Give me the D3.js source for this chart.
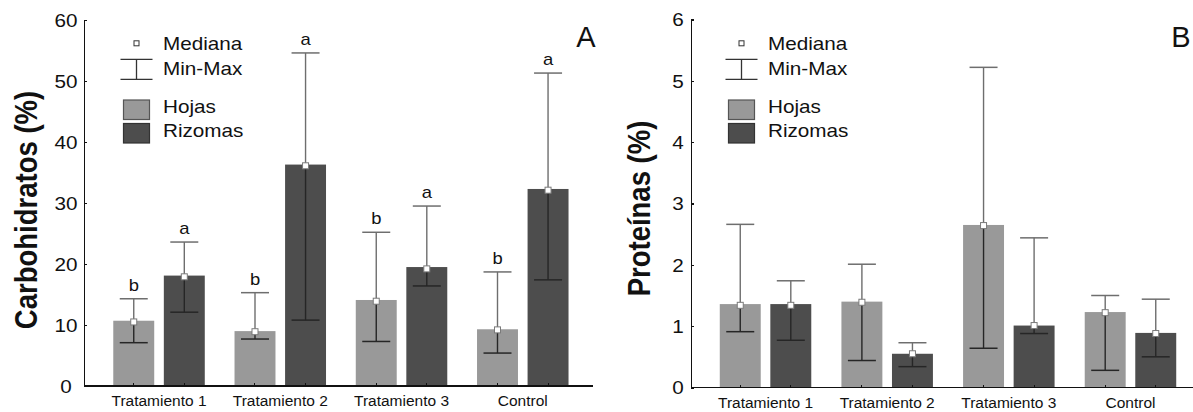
<!DOCTYPE html>
<html>
<head>
<meta charset="utf-8">
<style>
  body { margin: 0; background: #fff; }
  svg text { font-family: "Liberation Sans", Arial, sans-serif; fill: #111; }
  .axis path, .axis line { stroke: #111; stroke-width: 1.5; shape-rendering: crispEdges; }
</style>
</head>
<body>
<svg width="1193" height="412"></svg>
<script src="https://cdnjs.cloudflare.com/ajax/libs/d3/7.8.5/d3.min.js"></script>
<script>

// categories
var groups = ["Tratamiento 1", "Tratamiento 2", "Tratamiento 3", "Control"];
var series = ["Hojas", "Rizomas"];

// A - carbohidratos (%)
var carbBar    = {Hojas: [10.7, 9.0, 14.1, 9.3],  Rizomas: [18.1, 36.3, 19.5, 32.3]};
var carbMedian = {Hojas: [10.5, 8.9, 13.9, 9.2],  Rizomas: [17.9, 36.1, 19.2, 32.1]};
var carbMin    = {Hojas: [7.1, 7.7, 7.3, 5.4],    Rizomas: [12.1, 10.8, 16.4, 17.4]};
var carbMax    = {Hojas: [14.3, 15.3, 25.2, 18.7], Rizomas: [23.6, 54.6, 29.5, 51.3]};
var carbLetter = {Hojas: ["b", "b", "b", "b"],    Rizomas: ["a", "a", "a", "a"]};
var carbTicks  = [0, 10, 20, 30, 40, 50, 60];

// B - proteinas (%)
var protBar    = {Hojas: [1.36, 1.40, 2.65, 1.23], Rizomas: [1.36, 0.55, 1.01, 0.89]};
var protMedian = {Hojas: [1.34, 1.39, 2.64, 1.22], Rizomas: [1.34, 0.55, 1.01, 0.88]};
var protMin    = {Hojas: [0.91, 0.44, 0.64, 0.28], Rizomas: [0.77, 0.34, 0.88, 0.50]};
var protMax    = {Hojas: [2.66, 2.01, 5.22, 1.50], Rizomas: [1.74, 0.73, 2.44, 1.44]};
var protTicks  = [0, 1, 2, 3, 4, 5, 6];

var colors = {Hojas: "#999999", Rizomas: "#4d4d4d"};
var legendStroke = {Hojas: "#555", Rizomas: "#333"};
var stretch = 1.15;  // the original is a little wide

var svg = d3.select("svg");

function panel(cfg) {
  var g = svg.append("g");

  var y = d3.scaleLinear().domain([0, cfg.ticks[cfg.ticks.length - 1]]).range([cfg.y0, cfg.y1]);
  var x = d3.scaleBand().domain(groups).range(cfg.band);
  var xs = d3.scaleBand().domain(series).range([-45.75, 45.75]).paddingInner(0.19);
  function cx(i, s) { return x(groups[i]) + x.bandwidth() / 2 + xs(s) + xs.bandwidth() / 2; }

  // bars
  series.forEach(function(s) {
    g.append("g").selectAll("rect")
      .data(cfg.bar[s])
      .enter().append("rect")
        .attr("x", function(d, i) { return cx(i, s) - xs.bandwidth() / 2; })
        .attr("y", function(d) { return y(d); })
        .attr("width", xs.bandwidth())
        .attr("height", function(d) { return y(0) - y(d); })
        .attr("fill", colors[s]);
  });

  // min-max whiskers
  series.forEach(function(s) {
    var w = g.append("g");
    cfg.bar[s].forEach(function(b, i) {
      var c = cx(i, s), lo = cfg.min[s][i], hi = cfg.max[s][i];
      var split = Math.max(lo, Math.min(hi, b));
      w.append("line").attr("x1", c).attr("x2", c).attr("y1", y(split)).attr("y2", y(hi))
        .attr("stroke", "#6e6e6e").attr("stroke-width", 1.4);
      w.append("line").attr("x1", c).attr("x2", c).attr("y1", y(lo)).attr("y2", y(split))
        .attr("stroke", "#262626").attr("stroke-width", 1.4);
      w.append("line").attr("x1", c - 14).attr("x2", c + 14).attr("y1", y(hi)).attr("y2", y(hi))
        .attr("stroke", hi > b ? "#6e6e6e" : "#262626").attr("stroke-width", 1.5);
      w.append("line").attr("x1", c - 14).attr("x2", c + 14).attr("y1", y(lo)).attr("y2", y(lo))
        .attr("stroke", "#262626").attr("stroke-width", 1.5);
      // median
      w.append("rect").attr("x", c - 3).attr("y", y(cfg.median[s][i]) - 3)
        .attr("width", 6).attr("height", 6)
        .attr("fill", "#fff").attr("stroke", "#7a7a7a").attr("stroke-width", 1);
      if (cfg.letter) {
        w.append("text")
          .attr("transform", "translate(" + c + "," + (y(hi) - 8) + ") scale(" + stretch + ",1)")
          .attr("text-anchor", "middle")
          .style("font-size", "16px")
          .text(cfg.letter[s][i]);
      }
    });
  });

  // y axis
  var ya = g.append("g")
      .attr("class", "axis")
      .attr("transform", "translate(" + cfg.ax + ",0)")
      .call(d3.axisLeft(y).tickValues(cfg.ticks).tickSize(-3).tickSizeOuter(0).tickFormat(d3.format("d")));
  ya.selectAll("text")
      .attr("x", 0).attr("dy", "0.35em")
      .attr("text-anchor", "middle")
      .attr("transform", "translate(" + (-cfg.labOff) + ",0) scale(" + stretch + ",1)")
      .style("font-size", "18px").style("fill", "#111");

  // x axis
  var xa = g.append("g")
      .attr("class", "axis")
      .attr("transform", "translate(0," + y(0) + ")")
      .call(d3.axisBottom(x).tickSize(0).tickPadding(9));
  xa.select(".domain").remove();
  xa.selectAll("text").style("font-size", "15.5px").style("fill", "#111");
  xa.append("line").attr("x1", cfg.ax).attr("x2", cfg.xEnd).attr("y1", 0).attr("y2", 0);
  series.forEach(function(s) {
    groups.forEach(function(gr, i) {
      xa.append("line").attr("x1", cx(i, s)).attr("x2", cx(i, s)).attr("y1", 0).attr("y2", -3)
        .style("stroke-width", 1);
    });
  });

  // y title
  g.append("text")
      .attr("transform", "translate(" + cfg.titleX + "," + cfg.titleY + ") scale(" + stretch + ",1) rotate(-90)")
      .attr("text-anchor", "middle")
      .style("font-size", "27.5px").style("font-weight", "bold")
      .text(cfg.title);

  // panel letter
  g.append("text")
      .attr("x", cfg.tagX).attr("y", 47)
      .attr("text-anchor", "middle")
      .style("font-size", "29px")
      .text(cfg.tag);

  // legend
  var lx = cfg.legX, sx = lx - 26.5;
  var leg = g.append("g");
  leg.append("rect").attr("x", sx - 2.5).attr("y", 40.8).attr("width", 5).attr("height", 5)
    .attr("fill", "#fff").attr("stroke", "#333").attr("stroke-width", 1);
  leg.append("line").attr("x1", sx - 16).attr("x2", sx + 16).attr("y1", 59.3).attr("y2", 59.3)
    .attr("stroke", "#333").attr("stroke-width", 1.3);
  leg.append("line").attr("x1", sx - 16).attr("x2", sx + 16).attr("y1", 79.3).attr("y2", 79.3)
    .attr("stroke", "#333").attr("stroke-width", 1.3);
  leg.append("line").attr("x1", sx).attr("x2", sx).attr("y1", 59.3).attr("y2", 79.3)
    .attr("stroke", "#333").attr("stroke-width", 1.3);
  series.forEach(function(s, i) {
    leg.append("rect").attr("x", sx - 13).attr("y", 100 + i * 23.5).attr("width", 26).attr("height", 19.5)
      .attr("fill", colors[s]).attr("stroke", legendStroke[s]).attr("stroke-width", 1.2);
  });
  var labels = [["Mediana", 50], ["Min-Max", 75], ["Hojas", 113.3], ["Rizomas", 137.3]];
  labels.forEach(function(l) {
    leg.append("text")
      .attr("transform", "translate(" + lx + "," + l[1] + ") scale(" + stretch + ",1)")
      .style("font-size", "18px")
      .text(l[0]);
  });
}

panel({
  ticks: carbTicks, y0: 386, y1: 20, ax: 84, xEnd: 593, band: [98.4, 583.4], labOff: 18,
  bar: carbBar, median: carbMedian, min: carbMin, max: carbMax, letter: carbLetter,
  title: "Carbohidratos (%)", titleX: 37, titleY: 210, tag: "A", tagX: 586, legX: 163
});

panel({
  ticks: protTicks, y0: 387.5, y1: 19.5, ax: 691, xEnd: 1193, band: [704.7, 1191.3], labOff: 13,
  bar: protBar, median: protMedian, min: protMin, max: protMax, letter: null,
  title: "Proteínas (%)", titleX: 650, titleY: 208.5, tag: "B", tagX: 1181, legX: 768
});

</script>
</body>
</html>
